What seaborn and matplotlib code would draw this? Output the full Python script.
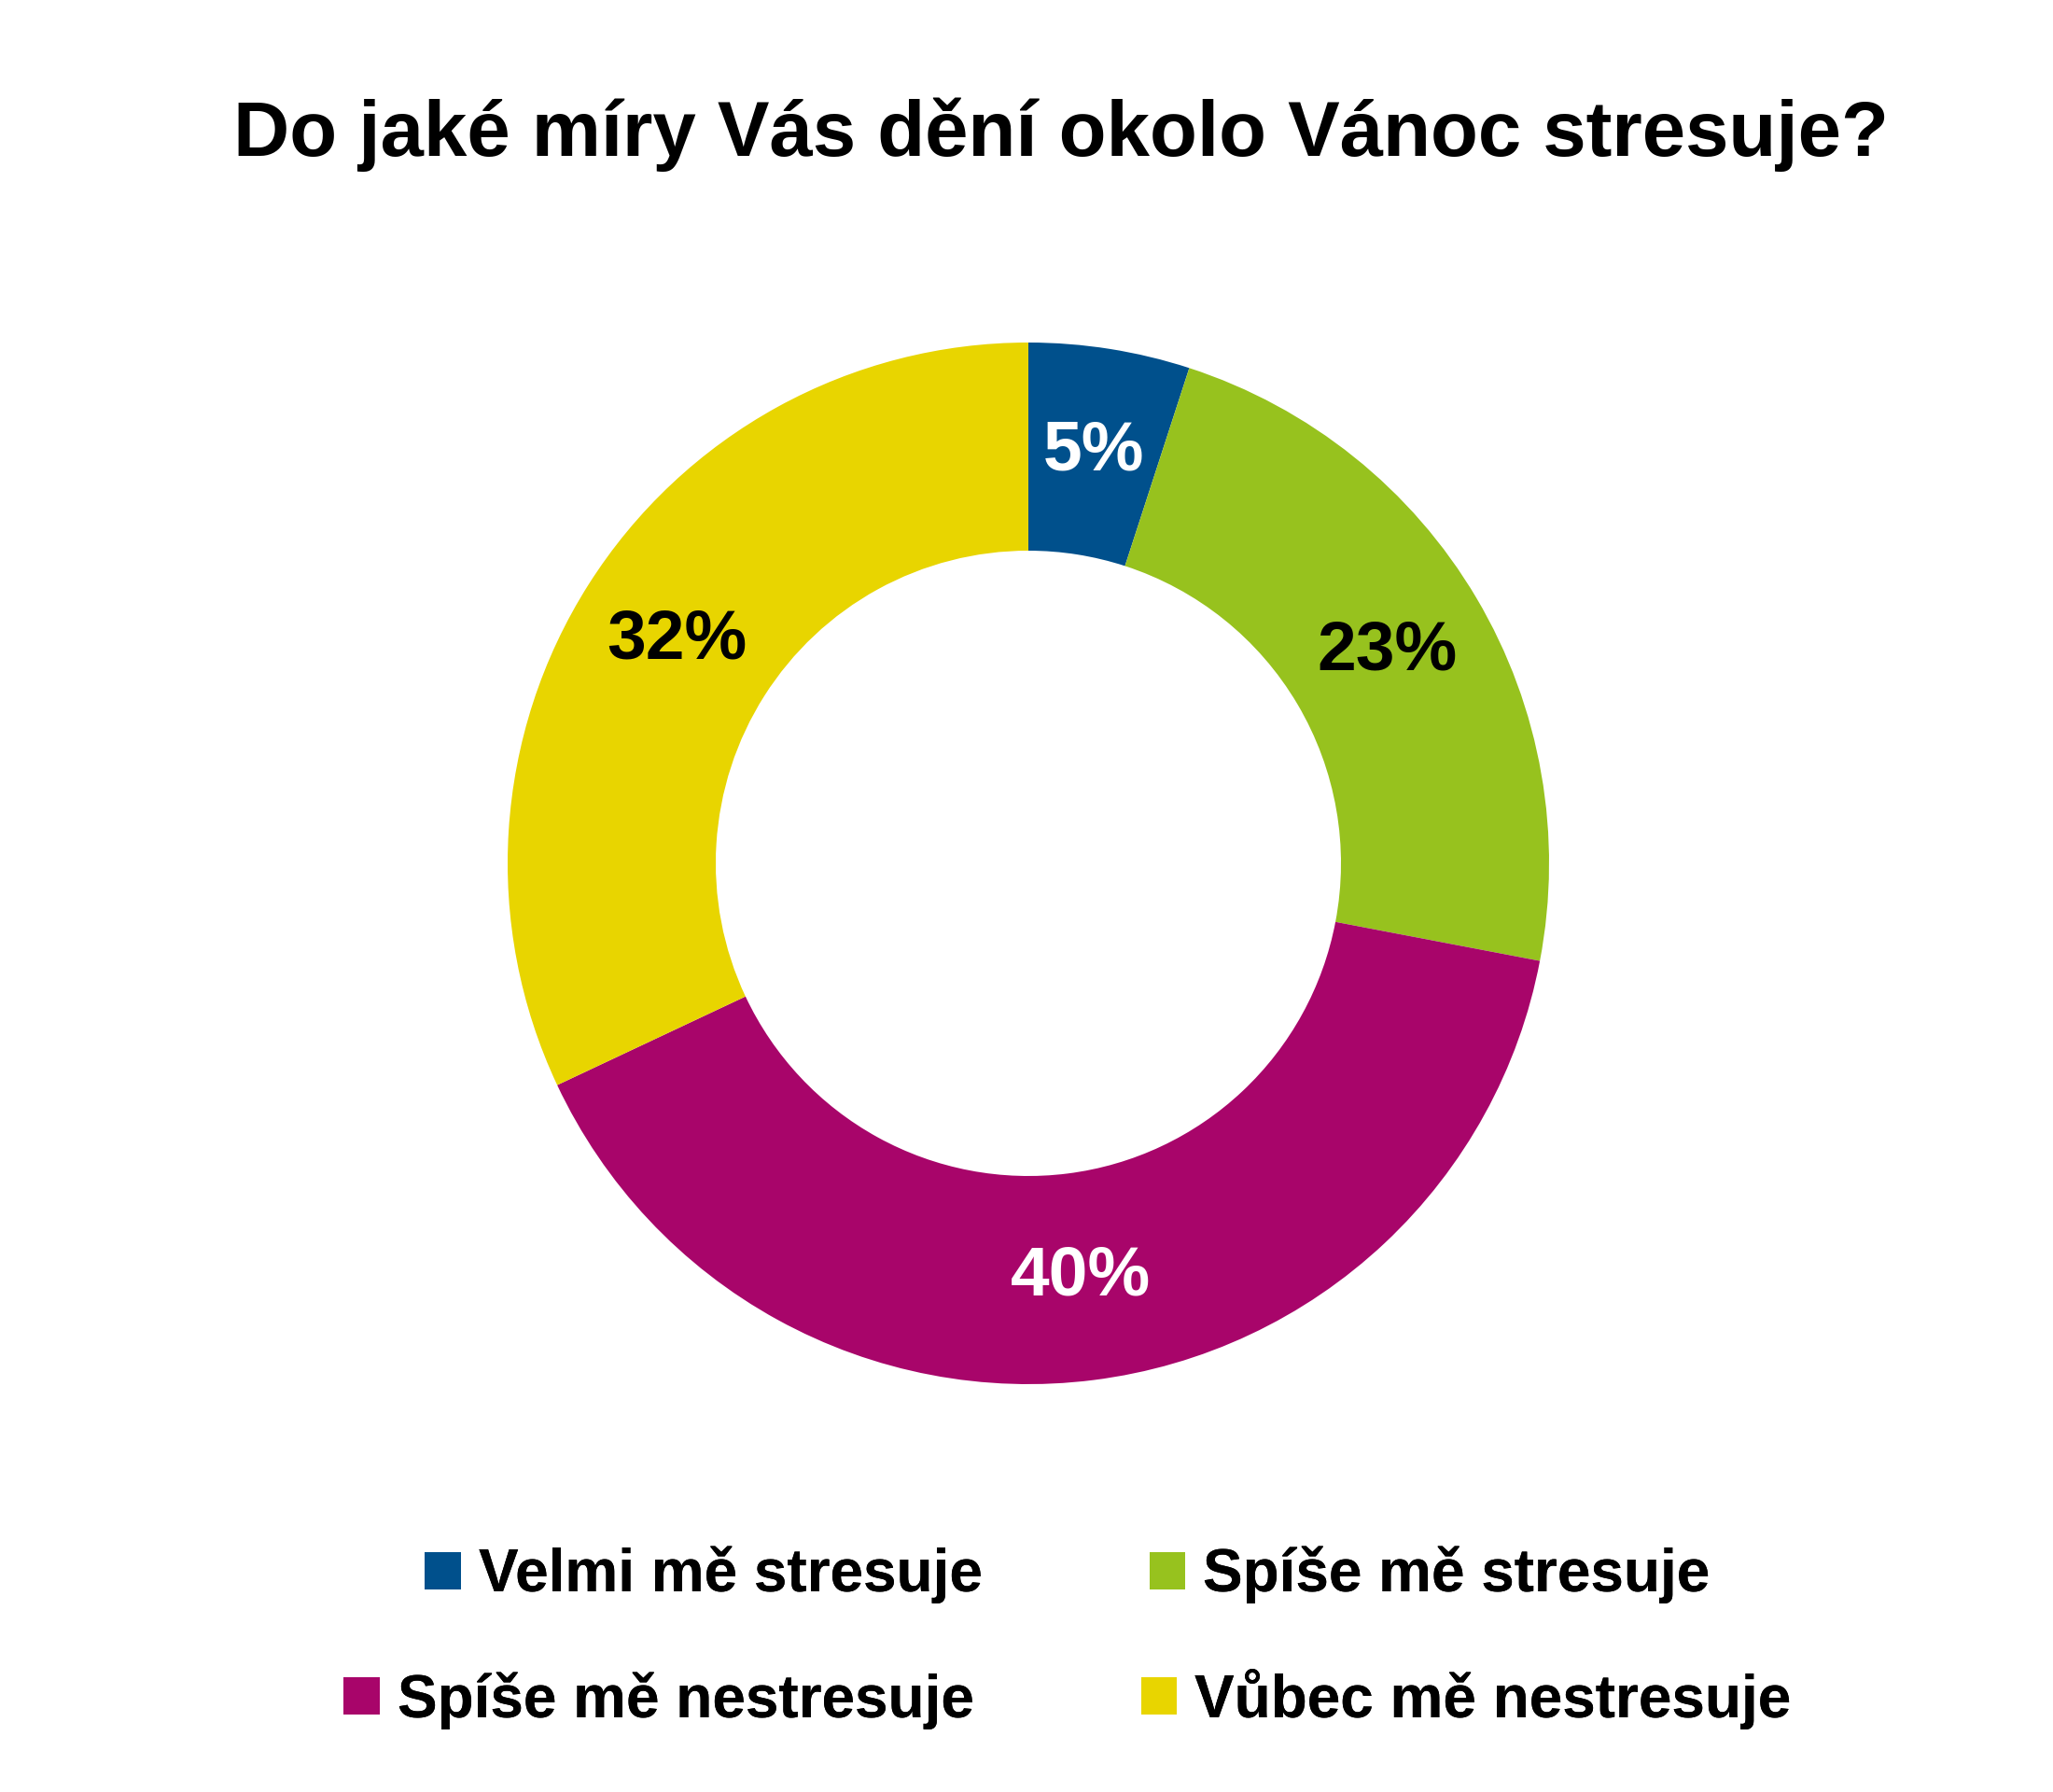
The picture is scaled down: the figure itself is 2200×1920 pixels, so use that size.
import matplotlib
matplotlib.use("Agg")
import matplotlib.pyplot as plt
from matplotlib.patches import Patch
import seaborn as sns

sns.set_theme(style="white")
plt.rcParams['font.family'] = ['Liberation Sans', 'DejaVu Sans']

categories = ["Velmi mě stresuje", "Spíše mě stresuje", "Spíše mě nestresuje", "Vůbec mě nestresuje"]
values = [5, 23, 40, 32]
colors = ["#00508C", "#97C21E", "#A8056A", "#E8D500"]
label_colors = ["white", "black", "white", "black"]
title = "Do jaké míry Vás dění okolo Vánoc stresuje?"

fig = plt.figure(figsize=(11, 9.6), dpi=200)
ax = fig.add_axes([0, 0, 1, 1])

wedges, texts, autotexts = ax.pie(values, colors=colors, startangle=90, counterclock=False,
                                  center=(1102, 995), radius=558,
                                  wedgeprops=dict(width=223, edgecolor='none'),
                                  autopct=lambda p: f"{p:.0f}%", pctdistance=0.8)
ax.set_xlim(0, 2200)
ax.set_ylim(0, 1920)
ax.set_aspect('equal')
ax.axis('off')
for t, c in zip(autotexts, label_colors):
    t.set_color(c)
    t.set_fontsize(27)
    t.set_fontweight('bold')

fig.text(0.517, 0.925, title, ha='center', va='center', fontsize=30, fontweight='bold', color='black')

for row, y in enumerate([0.121, 0.052]):
    handles = [Patch(facecolor=colors[i], edgecolor='none') for i in (2*row, 2*row+1)]
    labels = [categories[i] for i in (2*row, 2*row+1)]
    leg = fig.legend(handles, labels, loc='center', bbox_to_anchor=(0.52, y), ncol=2, frameon=False,
                     prop=dict(size=23, weight='bold'), handlelength=0.6, handleheight=0.6,
                     handletextpad=0.3, columnspacing=2.8, labelcolor='black')
    fig.add_artist(leg)

fig.savefig("out.png", dpi=200, facecolor='white')
